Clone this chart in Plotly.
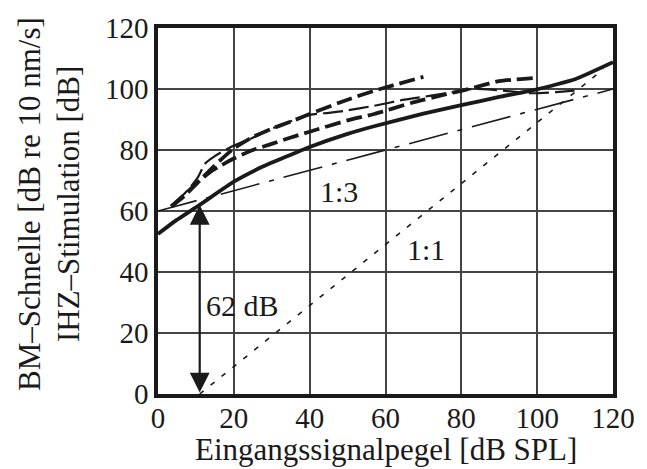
import plotly.graph_objects as go

# Input level axis (dB SPL)
solid_x = [0, 4.4, 11, 20, 27.5, 40, 50, 57, 70, 80, 90, 100, 110, 120]
solid_y = [52.5, 56.6, 62, 69.6, 74.5, 81, 85.3, 87.8, 91.9, 94.7, 97.4, 99.9, 103.2, 108.8]

top_x = [3.5, 7, 11, 15, 20, 25, 30, 35, 40, 50, 57, 62, 70]
top_y = [61.5, 65, 70, 75, 80.5, 84.3, 87, 89.3, 91.8, 96.5, 99.4, 101.2, 104]

mid_x = [3.5, 8, 11, 14, 16, 20, 25, 30, 34, 40, 50, 57, 67, 76, 80, 85, 90, 100]
mid_y = [61.5, 66.5, 70, 73, 74.5, 77.2, 80, 82, 83.7, 86, 89.7, 91.8, 95.5, 98.3, 99.4, 101, 102.6, 103.7]

thin_x = [4, 8, 10.5, 12.4, 15, 20, 25, 30, 40, 45, 49, 57, 65, 72, 78, 83, 88, 93, 99, 105, 111]
thin_y = [62, 67, 71, 75.5, 78, 81.5, 84, 87, 91.5, 92.2, 92.8, 94.5, 96.5, 97.8, 99, 100, 99.8, 99.2, 98.6, 99, 99.6]

ratio13_x = [0, 120]
ratio13_y = [60, 100]

ratio11_x = [11, 117.5]
ratio11_y = [0, 106.5]

gain_x = 11
gain_lo, gain_hi = 0, 62

ticks = [0, 20, 40, 60, 80, 100, 120]

FONT = "'Liberation Serif', 'Times New Roman', Times, serif"
INK = "#1a1a1a"

fig = go.Figure()
fig.add_trace(go.Scatter(x=ratio11_x, y=ratio11_y, mode="lines",
                         line=dict(color=INK, width=1.6, dash="5px,9px")))
fig.add_trace(go.Scatter(x=ratio13_x, y=ratio13_y, mode="lines",
                         line=dict(color=INK, width=1.6, dash="40px,10px,5px,10px")))
fig.add_trace(go.Scatter(x=thin_x, y=thin_y, mode="lines", line_shape="spline",
                         line=dict(color=INK, width=2.2, dash="20px,6px", smoothing=0.6)))
fig.add_trace(go.Scatter(x=mid_x, y=mid_y, mode="lines", line_shape="spline",
                         line=dict(color=INK, width=3.8, dash="16px,6px", smoothing=0.6)))
fig.add_trace(go.Scatter(x=top_x, y=top_y, mode="lines", line_shape="spline",
                         line=dict(color=INK, width=3.8, dash="16px,6px", smoothing=0.6)))
fig.add_trace(go.Scatter(x=solid_x, y=solid_y, mode="lines", line_shape="spline",
                         line=dict(color=INK, width=3.8, smoothing=0.4)))

# Double-headed gain arrow
fig.add_annotation(x=gain_x, y=gain_hi, ax=gain_x, ay=gain_lo,
                   xref="x", yref="y", axref="x", ayref="y",
                   showarrow=True, arrowhead=2, startarrowhead=2,
                   arrowside="end+start", arrowwidth=2.2, arrowsize=1.8,
                   startarrowsize=1.8, arrowcolor=INK, text="")

label_font = dict(family=FONT, size=30, color=INK)
title_font = dict(family=FONT, size=31, color=INK)
fig.add_annotation(x=22.3, y=29, text=f"{gain_hi - gain_lo} dB", showarrow=False, font=label_font)
fig.add_annotation(x=47.8, y=66.4, text="1:3", showarrow=False, font=label_font)
fig.add_annotation(x=70.7, y=47.5, text="1:1", showarrow=False, font=label_font)

# Axis titles
fig.add_annotation(x=0.5, y=-0.152, xref="paper", yref="paper",
                   text="Eingangssignalpegel [dB SPL]", showarrow=False,
                   font=title_font, xanchor="center", yanchor="middle")
fig.add_annotation(x=-0.283, y=0.52, xref="paper", yref="paper",
                   text="BM–Schnelle [dB re 10 nm/s]", showarrow=False,
                   font=title_font, textangle=-90, xanchor="center", yanchor="middle")
fig.add_annotation(x=-0.197, y=0.52, xref="paper", yref="paper",
                   text="IHZ–Stimulation [dB]", showarrow=False,
                   font=title_font, textangle=-90, xanchor="center", yanchor="middle")

axis_common = dict(range=[0, 120], tickvals=ticks, showgrid=True,
                   gridcolor="#444", gridwidth=1.5, zeroline=False,
                   showline=True, linecolor=INK, linewidth=3.5, mirror=True,
                   ticks="", tickfont=dict(family=FONT, size=29, color=INK))

fig.update_xaxes(**axis_common, ticklabelstandoff=-5)
fig.update_yaxes(**axis_common)

fig.update_layout(width=647, height=469,
                  margin=dict(l=158, r=22, t=25, b=75),
                  paper_bgcolor="white", plot_bgcolor="white",
                  showlegend=False)

fig.write_html("out.html")
